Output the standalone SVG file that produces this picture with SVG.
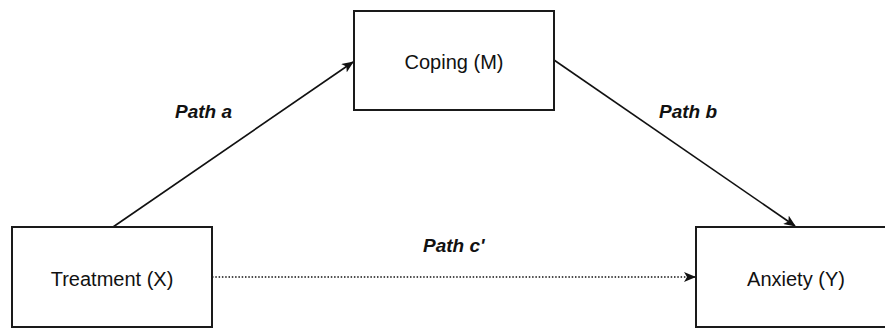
<svg xmlns="http://www.w3.org/2000/svg" width="885" height="329" viewBox="0 0 885 329">
<style>
.box{fill:#fff;stroke:#1a1a1a;stroke-width:2}
.lbl{font-family:"Liberation Sans",Arial,sans-serif;font-size:20px;fill:#111;text-anchor:middle}
.pl{font-family:"Liberation Sans",Arial,sans-serif;font-size:19px;font-weight:bold;font-style:italic;fill:#111}
.edge{stroke:#111;stroke-width:1.6;fill:none}
</style>
<defs>
<marker id="arr" markerWidth="12" markerHeight="10" refX="11" refY="5" orient="auto" markerUnits="userSpaceOnUse">
<path d="M0,0 L12,5 L0,10 L3,5 z" fill="#111"/>
</marker>
</defs>
<g id="connectors">
<line class="edge" x1="113" y1="227" x2="353" y2="62" marker-end="url(#arr)"/>
<line class="edge" x1="554" y1="60" x2="795" y2="226" marker-end="url(#arr)"/>
<line class="edge" x1="212" y1="277" x2="695" y2="277" stroke-dasharray="1.5 1.8" marker-end="url(#arr)"/>
<text class="pl" x="175" y="118">Path a</text>
<text class="pl" x="659" y="118">Path b</text>
<text class="pl" x="423" y="252">Path c'</text>
</g>
<g id="treatment">
<rect class="box" x="12" y="227" width="200" height="100"/>
<text class="lbl" x="112" y="286">Treatment (X)</text>
</g>
<g id="coping">
<rect class="box" x="354" y="11" width="200" height="99"/>
<text class="lbl" x="454" y="69">Coping (M)</text>
</g>
<g id="anxiety">
<rect class="box" x="696" y="227" width="200" height="100"/>
<text class="lbl" x="796" y="286">Anxiety (Y)</text>
</g>
</svg>
